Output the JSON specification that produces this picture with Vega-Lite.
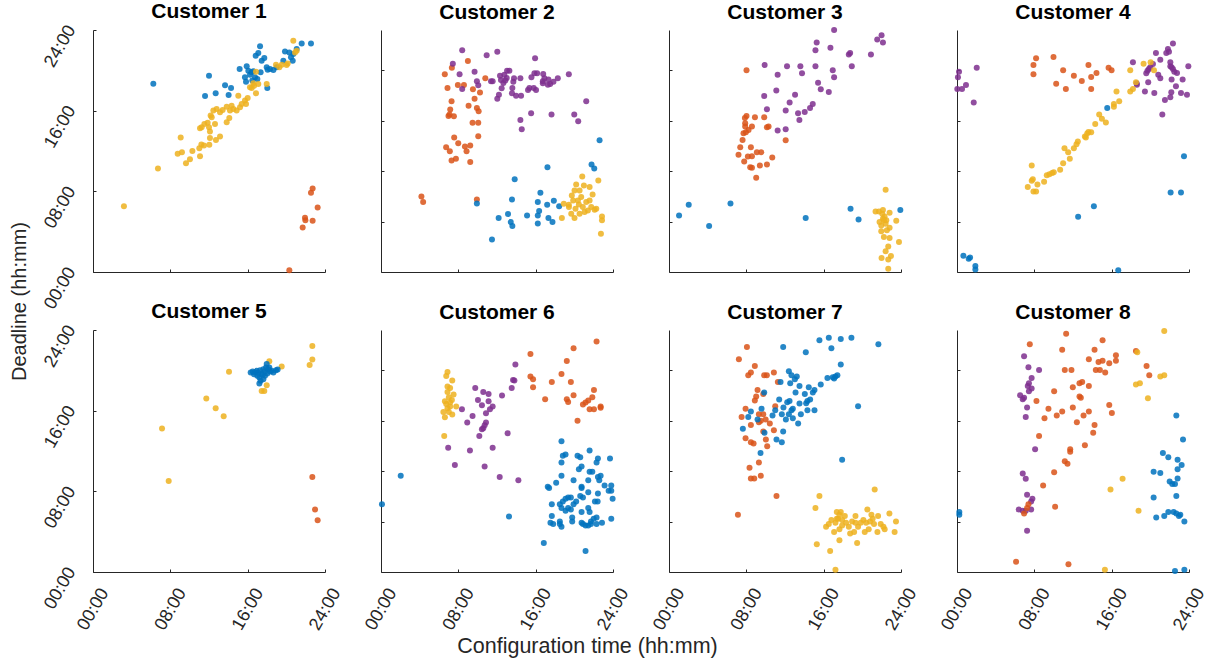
{
"$schema":"https://vega.github.io/schema/vega-lite/v6.json",
"autosize":{"type":"pad"},
"padding":{"left":9,"top":0,"right":5,"bottom":5},
"background":"white",
"data":{"values":[
{"c":1,"k":1,"x":6.24,"y":18.68},{"c":1,"k":1,"x":12.0,"y":19.47},{"c":1,"k":1,"x":11.59,"y":17.46},{"c":1,"k":1,"x":12.69,"y":17.72},{"c":1,"k":1,"x":13.66,"y":18.51},{"c":1,"k":1,"x":14.03,"y":17.56},{"c":1,"k":1,"x":14.28,"y":18.25},{"c":1,"k":1,"x":15.17,"y":20.13},{"c":1,"k":1,"x":15.9,"y":20.4},{"c":1,"k":1,"x":16.07,"y":19.97},{"c":1,"k":1,"x":16.24,"y":19.57},{"c":1,"k":1,"x":15.72,"y":19.31},{"c":1,"k":1,"x":15.83,"y":18.88},{"c":1,"k":1,"x":16.41,"y":19.8},{"c":1,"k":1,"x":16.76,"y":19.31},{"c":1,"k":1,"x":16.59,"y":19.9},{"c":1,"k":1,"x":17.0,"y":19.14},{"c":1,"k":1,"x":17.34,"y":19.8},{"c":1,"k":1,"x":16.48,"y":18.98},{"c":1,"k":1,"x":16.83,"y":21.45},{"c":1,"k":1,"x":17.28,"y":22.38},{"c":1,"k":1,"x":17.1,"y":21.72},{"c":1,"k":1,"x":17.45,"y":20.96},{"c":1,"k":1,"x":17.72,"y":21.22},{"c":1,"k":1,"x":17.97,"y":20.3},{"c":1,"k":1,"x":18.07,"y":20.07},{"c":1,"k":1,"x":18.31,"y":20.13},{"c":1,"k":1,"x":18.66,"y":20.03},{"c":1,"k":1,"x":19.0,"y":20.3},{"c":1,"k":1,"x":19.69,"y":20.96},{"c":1,"k":1,"x":19.86,"y":21.88},{"c":1,"k":1,"x":20.31,"y":21.78},{"c":1,"k":1,"x":20.48,"y":21.29},{"c":1,"k":1,"x":20.72,"y":21.62},{"c":1,"k":1,"x":20.66,"y":20.96},{"c":1,"k":1,"x":21.07,"y":22.11},{"c":1,"k":1,"x":21.59,"y":22.67},{"c":1,"k":1,"x":22.55,"y":22.67},{"c":1,"k":1,"x":18.03,"y":18.25},
{"c":1,"k":3,"x":3.2,"y":6.53},{"c":1,"k":3,"x":6.72,"y":10.26},{"c":1,"k":3,"x":9.07,"y":13.33},{"c":1,"k":3,"x":8.76,"y":11.72},{"c":1,"k":3,"x":9.2,"y":11.88},{"c":1,"k":3,"x":9.62,"y":10.79},{"c":1,"k":3,"x":10.03,"y":11.19},{"c":1,"k":3,"x":10.28,"y":12.01},{"c":1,"k":3,"x":11.07,"y":11.49},{"c":1,"k":3,"x":11.0,"y":12.28},{"c":1,"k":3,"x":11.21,"y":12.64},{"c":1,"k":3,"x":11.48,"y":12.54},{"c":1,"k":3,"x":12.03,"y":12.61},{"c":1,"k":3,"x":11.07,"y":14.26},{"c":1,"k":3,"x":11.24,"y":14.36},{"c":1,"k":3,"x":11.52,"y":14.69},{"c":1,"k":3,"x":11.86,"y":14.79},{"c":1,"k":3,"x":12.0,"y":14.36},{"c":1,"k":3,"x":12.1,"y":13.93},{"c":1,"k":3,"x":12.1,"y":13.3},{"c":1,"k":3,"x":12.62,"y":14.69},{"c":1,"k":3,"x":12.72,"y":13.1},{"c":1,"k":3,"x":13.14,"y":13.43},{"c":1,"k":3,"x":12.28,"y":15.35},{"c":1,"k":3,"x":12.17,"y":15.51},{"c":1,"k":3,"x":12.45,"y":16.01},{"c":1,"k":3,"x":12.79,"y":16.17},{"c":1,"k":3,"x":13.14,"y":15.84},{"c":1,"k":3,"x":13.41,"y":16.07},{"c":1,"k":3,"x":13.83,"y":16.4},{"c":1,"k":3,"x":14.17,"y":16.01},{"c":1,"k":3,"x":14.34,"y":16.5},{"c":1,"k":3,"x":14.52,"y":16.17},{"c":1,"k":3,"x":14.86,"y":16.01},{"c":1,"k":3,"x":15.21,"y":16.34},{"c":1,"k":3,"x":15.72,"y":17.0},{"c":1,"k":3,"x":15.83,"y":16.67},{"c":1,"k":3,"x":15.03,"y":17.49},{"c":1,"k":3,"x":16.0,"y":17.26},{"c":1,"k":3,"x":15.38,"y":16.67},{"c":1,"k":3,"x":13.83,"y":14.85},{"c":1,"k":3,"x":14.1,"y":15.28},{"c":1,"k":3,"x":16.24,"y":18.32},{"c":1,"k":3,"x":16.41,"y":18.25},{"c":1,"k":3,"x":16.66,"y":18.48},{"c":1,"k":3,"x":16.86,"y":17.72},{"c":1,"k":3,"x":16.59,"y":18.71},{"c":1,"k":3,"x":17.1,"y":18.65},{"c":1,"k":3,"x":17.97,"y":18.65},{"c":1,"k":3,"x":18.93,"y":20.56},{"c":1,"k":3,"x":19.28,"y":20.3},{"c":1,"k":3,"x":19.52,"y":20.56},{"c":1,"k":3,"x":20.03,"y":20.53},{"c":1,"k":3,"x":20.14,"y":20.69},{"c":1,"k":3,"x":20.72,"y":22.94},{"c":1,"k":3,"x":20.9,"y":21.78},{"c":1,"k":3,"x":21.07,"y":21.95},{"c":1,"k":3,"x":16.86,"y":19.87},
{"c":1,"k":2,"x":20.31,"y":0.17},{"c":1,"k":2,"x":21.69,"y":4.42},{"c":1,"k":2,"x":21.97,"y":5.12},{"c":1,"k":2,"x":21.93,"y":5.38},{"c":1,"k":2,"x":22.72,"y":5.08},{"c":1,"k":2,"x":23.24,"y":6.4},{"c":1,"k":2,"x":22.55,"y":7.85},{"c":1,"k":2,"x":22.72,"y":8.28},
{"c":2,"k":2,"x":4.18,"y":7.49},{"c":2,"k":2,"x":4.36,"y":6.93},{"c":2,"k":2,"x":9.92,"y":7.19},{"c":2,"k":2,"x":6.6,"y":19.6},{"c":2,"k":2,"x":7.33,"y":20.26},{"c":2,"k":2,"x":8.99,"y":20.92},{"c":2,"k":2,"x":6.88,"y":18.25},{"c":2,"k":2,"x":7.95,"y":18.55},{"c":2,"k":2,"x":8.58,"y":18.55},{"c":2,"k":2,"x":9.51,"y":18.12},{"c":2,"k":2,"x":10.24,"y":17.79},{"c":2,"k":2,"x":9.68,"y":17.19},{"c":2,"k":2,"x":7.3,"y":16.93},{"c":2,"k":2,"x":9.06,"y":16.5},{"c":2,"k":2,"x":9.92,"y":16.27},{"c":2,"k":2,"x":10.1,"y":15.94},{"c":2,"k":2,"x":7.16,"y":16.11},{"c":2,"k":2,"x":6.98,"y":15.48},{"c":2,"k":2,"x":7.54,"y":15.45},{"c":2,"k":2,"x":7.09,"y":15.61},{"c":2,"k":2,"x":9.47,"y":14.79},{"c":2,"k":2,"x":10.06,"y":14.79},{"c":2,"k":2,"x":10.06,"y":13.47},{"c":2,"k":2,"x":7.57,"y":13.33},{"c":2,"k":2,"x":7.99,"y":12.77},{"c":2,"k":2,"x":6.74,"y":12.38},{"c":2,"k":2,"x":7.12,"y":11.98},{"c":2,"k":2,"x":8.68,"y":12.44},{"c":2,"k":2,"x":9.23,"y":12.54},{"c":2,"k":2,"x":8.85,"y":11.98},{"c":2,"k":2,"x":7.3,"y":11.06},{"c":2,"k":2,"x":7.75,"y":11.22},{"c":2,"k":2,"x":9.23,"y":10.92},{"c":2,"k":2,"x":10.79,"y":19.21},
{"c":2,"k":4,"x":8.4,"y":21.98},{"c":2,"k":4,"x":7.43,"y":20.66},{"c":2,"k":4,"x":10.93,"y":21.49},{"c":2,"k":4,"x":12.03,"y":21.85},{"c":2,"k":4,"x":15.94,"y":21.19},{"c":2,"k":4,"x":8.13,"y":19.6},{"c":2,"k":4,"x":9.68,"y":19.87},{"c":2,"k":4,"x":8.4,"y":18.15},{"c":2,"k":4,"x":9.92,"y":18.91},{"c":2,"k":4,"x":10.06,"y":18.51},{"c":2,"k":4,"x":11.38,"y":18.91},{"c":2,"k":4,"x":11.55,"y":18.91},{"c":2,"k":4,"x":12.03,"y":17.19},{"c":2,"k":4,"x":12.2,"y":17.59},{"c":2,"k":4,"x":12.41,"y":19.04},{"c":2,"k":4,"x":12.31,"y":19.47},{"c":2,"k":4,"x":12.76,"y":19.57},{"c":2,"k":4,"x":13.04,"y":19.97},{"c":2,"k":4,"x":13.28,"y":19.97},{"c":2,"k":4,"x":13.01,"y":19.24},{"c":2,"k":4,"x":12.66,"y":18.75},{"c":2,"k":4,"x":12.48,"y":18.22},{"c":2,"k":4,"x":12.86,"y":18.98},{"c":2,"k":4,"x":13.69,"y":18.88},{"c":2,"k":4,"x":13.59,"y":18.25},{"c":2,"k":4,"x":13.55,"y":17.72},{"c":2,"k":4,"x":13.97,"y":17.49},{"c":2,"k":4,"x":14.49,"y":17.49},{"c":2,"k":4,"x":14.42,"y":19.21},{"c":2,"k":4,"x":15.21,"y":18.05},{"c":2,"k":4,"x":15.35,"y":18.25},{"c":2,"k":4,"x":15.8,"y":18.25},{"c":2,"k":4,"x":15.56,"y":19.31},{"c":2,"k":4,"x":15.87,"y":19.7},{"c":2,"k":4,"x":16.15,"y":19.7},{"c":2,"k":4,"x":16.78,"y":19.64},{"c":2,"k":4,"x":16.04,"y":18.05},{"c":2,"k":4,"x":16.74,"y":18.91},{"c":2,"k":4,"x":16.91,"y":19.21},{"c":2,"k":4,"x":17.32,"y":19.08},{"c":2,"k":4,"x":17.5,"y":18.65},{"c":2,"k":4,"x":17.84,"y":18.88},{"c":2,"k":4,"x":18.29,"y":19.21},{"c":2,"k":4,"x":16.74,"y":18.71},{"c":2,"k":4,"x":17.26,"y":18.58},{"c":2,"k":4,"x":19.43,"y":19.6},{"c":2,"k":4,"x":21.23,"y":16.93},{"c":2,"k":4,"x":17.64,"y":15.61},{"c":2,"k":4,"x":15.53,"y":15.74},{"c":2,"k":4,"x":19.99,"y":15.61},{"c":2,"k":4,"x":20.4,"y":14.95},{"c":2,"k":4,"x":14.42,"y":15.08},{"c":2,"k":4,"x":14.56,"y":14.16},{"c":2,"k":4,"x":13.76,"y":19.21},
{"c":2,"k":1,"x":9.92,"y":6.8},{"c":2,"k":1,"x":11.48,"y":3.23},{"c":2,"k":1,"x":12.17,"y":5.35},{"c":2,"k":1,"x":13.14,"y":5.74},{"c":2,"k":1,"x":13.42,"y":4.95},{"c":2,"k":1,"x":13.59,"y":4.55},{"c":2,"k":1,"x":13.55,"y":7.19},{"c":2,"k":1,"x":13.83,"y":9.21},{"c":2,"k":1,"x":15.11,"y":5.61},{"c":2,"k":1,"x":16.22,"y":6.93},{"c":2,"k":1,"x":16.36,"y":6.04},{"c":2,"k":1,"x":16.22,"y":5.61},{"c":2,"k":1,"x":16.22,"y":4.82},{"c":2,"k":1,"x":16.49,"y":7.85},{"c":2,"k":1,"x":17.19,"y":6.67},{"c":2,"k":1,"x":17.32,"y":5.35},{"c":2,"k":1,"x":17.74,"y":4.95},{"c":2,"k":1,"x":17.88,"y":7.06},{"c":2,"k":1,"x":18.43,"y":6.53},{"c":2,"k":1,"x":17.22,"y":10.4},{"c":2,"k":1,"x":21.78,"y":10.66},{"c":2,"k":1,"x":22.06,"y":10.26},{"c":2,"k":1,"x":22.61,"y":13.07},
{"c":2,"k":3,"x":18.71,"y":5.35},{"c":2,"k":3,"x":19.43,"y":6.67},{"c":2,"k":3,"x":19.74,"y":7.59},{"c":2,"k":3,"x":19.88,"y":7.1},{"c":2,"k":3,"x":20.19,"y":8.68},{"c":2,"k":3,"x":20.82,"y":9.47},{"c":2,"k":3,"x":20.99,"y":8.58},{"c":2,"k":3,"x":21.58,"y":8.42},{"c":2,"k":3,"x":21.89,"y":7.69},{"c":2,"k":3,"x":22.48,"y":9.08},{"c":2,"k":3,"x":20.02,"y":8.09},{"c":2,"k":3,"x":20.54,"y":8.09},{"c":2,"k":3,"x":20.37,"y":7.1},{"c":2,"k":3,"x":20.71,"y":7.43},{"c":2,"k":3,"x":20.47,"y":6.7},{"c":2,"k":3,"x":20.12,"y":6.27},{"c":2,"k":3,"x":20.88,"y":6.44},{"c":2,"k":3,"x":21.23,"y":6.93},{"c":2,"k":3,"x":21.4,"y":6.11},{"c":2,"k":3,"x":21.75,"y":6.44},{"c":2,"k":3,"x":22.1,"y":6.17},{"c":2,"k":3,"x":22.27,"y":6.27},{"c":2,"k":3,"x":18.91,"y":6.77},{"c":2,"k":3,"x":19.44,"y":6.44},{"c":2,"k":3,"x":19.68,"y":5.78},{"c":2,"k":3,"x":20.02,"y":5.35},{"c":2,"k":3,"x":21.06,"y":5.94},{"c":2,"k":3,"x":22.86,"y":5.51},{"c":2,"k":3,"x":22.86,"y":5.12},{"c":2,"k":3,"x":22.75,"y":3.8},{"c":2,"k":3,"x":21.58,"y":7.1},{"c":2,"k":3,"x":20.54,"y":5.78},
{"c":3,"k":2,"x":8.02,"y":20.0},{"c":3,"k":2,"x":8.02,"y":15.48},{"c":3,"k":2,"x":7.85,"y":15.28},{"c":3,"k":2,"x":7.88,"y":14.75},{"c":3,"k":2,"x":7.88,"y":14.42},{"c":3,"k":2,"x":8.23,"y":14.09},{"c":3,"k":2,"x":8.58,"y":14.42},{"c":3,"k":2,"x":8.89,"y":15.35},{"c":3,"k":2,"x":9.85,"y":15.35},{"c":3,"k":2,"x":7.71,"y":13.76},{"c":3,"k":2,"x":7.61,"y":13.1},{"c":3,"k":2,"x":7.37,"y":12.38},{"c":3,"k":2,"x":7.19,"y":11.62},{"c":3,"k":2,"x":7.78,"y":10.96},{"c":3,"k":2,"x":8.16,"y":11.45},{"c":3,"k":2,"x":8.58,"y":11.49},{"c":3,"k":2,"x":8.47,"y":12.38},{"c":3,"k":2,"x":9.09,"y":11.88},{"c":3,"k":2,"x":9.54,"y":11.88},{"c":3,"k":2,"x":8.4,"y":10.4},{"c":3,"k":2,"x":8.58,"y":10.33},{"c":3,"k":2,"x":9.4,"y":10.56},{"c":3,"k":2,"x":10.13,"y":10.66},{"c":3,"k":2,"x":9.02,"y":9.34},{"c":3,"k":2,"x":10.68,"y":11.35},{"c":3,"k":2,"x":10.13,"y":14.36},{"c":3,"k":2,"x":10.3,"y":14.42},{"c":3,"k":2,"x":12.07,"y":13.07},{"c":3,"k":2,"x":7.95,"y":13.86},
{"c":3,"k":4,"x":17.08,"y":23.99},{"c":3,"k":4,"x":15.28,"y":22.77},{"c":3,"k":4,"x":15.15,"y":21.98},{"c":3,"k":4,"x":16.7,"y":22.24},{"c":3,"k":4,"x":9.89,"y":20.53},{"c":3,"k":4,"x":12.21,"y":20.4},{"c":3,"k":4,"x":13.59,"y":20.4},{"c":3,"k":4,"x":13.76,"y":19.7},{"c":3,"k":4,"x":15.15,"y":20.4},{"c":3,"k":4,"x":11.24,"y":19.57},{"c":3,"k":4,"x":16.94,"y":20.0},{"c":3,"k":4,"x":17.08,"y":19.31},{"c":3,"k":4,"x":15.42,"y":18.78},{"c":3,"k":4,"x":15.7,"y":18.12},{"c":3,"k":4,"x":16.53,"y":17.85},{"c":3,"k":4,"x":11.1,"y":17.99},{"c":3,"k":4,"x":13.04,"y":17.59},{"c":3,"k":4,"x":9.85,"y":17.46},{"c":3,"k":4,"x":12.48,"y":16.8},{"c":3,"k":4,"x":14.87,"y":16.67},{"c":3,"k":4,"x":14.59,"y":16.27},{"c":3,"k":4,"x":14.04,"y":15.87},{"c":3,"k":4,"x":13.35,"y":15.74},{"c":3,"k":4,"x":13.49,"y":15.08},{"c":3,"k":4,"x":12.07,"y":16.01},{"c":3,"k":4,"x":10.13,"y":16.14},{"c":3,"k":4,"x":11.24,"y":14.03},{"c":3,"k":4,"x":12.07,"y":14.16},{"c":3,"k":4,"x":18.6,"y":21.58},{"c":3,"k":4,"x":18.74,"y":21.72},{"c":3,"k":4,"x":18.91,"y":20.4},{"c":3,"k":4,"x":20.89,"y":21.58},{"c":3,"k":4,"x":21.54,"y":23.07},{"c":3,"k":4,"x":21.99,"y":23.47},{"c":3,"k":4,"x":22.13,"y":22.77},
{"c":3,"k":1,"x":1.04,"y":5.61},{"c":3,"k":1,"x":2.04,"y":6.67},{"c":3,"k":1,"x":4.15,"y":4.55},{"c":3,"k":1,"x":6.36,"y":6.8},{"c":3,"k":1,"x":14.14,"y":5.35},{"c":3,"k":1,"x":18.78,"y":6.27},{"c":3,"k":1,"x":19.61,"y":5.21},{"c":3,"k":1,"x":23.93,"y":6.14},
{"c":3,"k":3,"x":22.41,"y":8.15},{"c":3,"k":3,"x":21.37,"y":6.01},{"c":3,"k":3,"x":21.72,"y":6.01},{"c":3,"k":3,"x":22.13,"y":6.14},{"c":3,"k":3,"x":22.82,"y":5.87},{"c":3,"k":3,"x":23.51,"y":5.08},{"c":3,"k":3,"x":21.78,"y":4.95},{"c":3,"k":3,"x":22.13,"y":5.28},{"c":3,"k":3,"x":22.3,"y":5.51},{"c":3,"k":3,"x":22.48,"y":5.12},{"c":3,"k":3,"x":21.96,"y":4.62},{"c":3,"k":3,"x":22.41,"y":4.79},{"c":3,"k":3,"x":22.82,"y":4.39},{"c":3,"k":3,"x":21.96,"y":4.03},{"c":3,"k":3,"x":22.54,"y":4.13},{"c":3,"k":3,"x":22.23,"y":3.47},{"c":3,"k":3,"x":22.82,"y":3.37},{"c":3,"k":3,"x":23.79,"y":2.97},{"c":3,"k":3,"x":22.68,"y":2.54},{"c":3,"k":3,"x":22.41,"y":2.05},{"c":3,"k":3,"x":21.99,"y":1.39},{"c":3,"k":3,"x":22.96,"y":1.58},{"c":3,"k":3,"x":22.68,"y":1.25},{"c":3,"k":3,"x":22.68,"y":0.33},{"c":3,"k":3,"x":22.06,"y":5.78},{"c":3,"k":3,"x":22.23,"y":5.12},
{"c":4,"k":4,"x":0.21,"y":19.87},{"c":4,"k":4,"x":0.1,"y":19.31},{"c":4,"k":4,"x":0.03,"y":18.15},{"c":4,"k":4,"x":0.52,"y":18.15},{"c":4,"k":4,"x":0.93,"y":18.55},{"c":4,"k":4,"x":2.04,"y":20.26},{"c":4,"k":4,"x":1.73,"y":16.8},{"c":4,"k":4,"x":18.2,"y":20.79},{"c":4,"k":4,"x":18.61,"y":18.58},{"c":4,"k":4,"x":18.58,"y":18.71},{"c":4,"k":4,"x":19.44,"y":17.89},{"c":4,"k":4,"x":19.58,"y":19.7},{"c":4,"k":4,"x":19.71,"y":19.97},{"c":4,"k":4,"x":19.85,"y":20.13},{"c":4,"k":4,"x":19.99,"y":20.3},{"c":4,"k":4,"x":19.78,"y":18.81},{"c":4,"k":4,"x":20.27,"y":20.63},{"c":4,"k":4,"x":20.41,"y":17.76},{"c":4,"k":4,"x":20.58,"y":21.72},{"c":4,"k":4,"x":20.82,"y":19.57},{"c":4,"k":4,"x":21.03,"y":21.06},{"c":4,"k":4,"x":21.03,"y":19.21},{"c":4,"k":4,"x":21.24,"y":15.61},{"c":4,"k":4,"x":21.51,"y":17.06},{"c":4,"k":4,"x":21.65,"y":21.72},{"c":4,"k":4,"x":21.82,"y":22.11},{"c":4,"k":4,"x":21.93,"y":21.85},{"c":4,"k":4,"x":22.07,"y":17.33},{"c":4,"k":4,"x":22.17,"y":17.82},{"c":4,"k":4,"x":22.07,"y":20.79},{"c":4,"k":4,"x":22.2,"y":19.08},{"c":4,"k":4,"x":22.07,"y":20.4},{"c":4,"k":4,"x":22.34,"y":20.13},{"c":4,"k":4,"x":22.48,"y":19.87},{"c":4,"k":4,"x":22.34,"y":22.67},{"c":4,"k":4,"x":22.76,"y":19.74},{"c":4,"k":4,"x":22.65,"y":18.42},{"c":4,"k":4,"x":23.17,"y":17.76},{"c":4,"k":4,"x":23.34,"y":19.08},{"c":4,"k":4,"x":23.79,"y":17.59},{"c":4,"k":4,"x":23.93,"y":20.4},{"c":4,"k":4,"x":22.2,"y":20.3},
{"c":4,"k":2,"x":8.18,"y":21.19},{"c":4,"k":2,"x":7.91,"y":20.53},{"c":4,"k":2,"x":7.91,"y":19.6},{"c":4,"k":2,"x":9.98,"y":21.32},{"c":4,"k":2,"x":10.26,"y":18.68},{"c":4,"k":2,"x":10.98,"y":20.0},{"c":4,"k":2,"x":11.26,"y":18.15},{"c":4,"k":2,"x":12.09,"y":19.47},{"c":4,"k":2,"x":12.91,"y":18.94},{"c":4,"k":2,"x":13.6,"y":20.53},{"c":4,"k":2,"x":13.88,"y":19.34},{"c":4,"k":2,"x":13.88,"y":18.15},{"c":4,"k":2,"x":14.43,"y":19.74},{"c":4,"k":2,"x":15.68,"y":20.26},{"c":4,"k":2,"x":15.99,"y":20.0},
{"c":4,"k":3,"x":7.73,"y":10.56},{"c":4,"k":3,"x":7.32,"y":8.42},{"c":4,"k":3,"x":7.73,"y":9.04},{"c":4,"k":3,"x":7.84,"y":9.21},{"c":4,"k":3,"x":7.91,"y":7.99},{"c":4,"k":3,"x":8.18,"y":7.99},{"c":4,"k":3,"x":8.32,"y":8.68},{"c":4,"k":3,"x":9.01,"y":8.94},{"c":4,"k":3,"x":9.29,"y":9.6},{"c":4,"k":3,"x":9.56,"y":9.7},{"c":4,"k":3,"x":9.84,"y":9.83},{"c":4,"k":3,"x":10.01,"y":9.9},{"c":4,"k":3,"x":10.67,"y":10.13},{"c":4,"k":3,"x":10.98,"y":10.79},{"c":4,"k":3,"x":11.12,"y":12.28},{"c":4,"k":3,"x":11.5,"y":11.88},{"c":4,"k":3,"x":11.67,"y":11.22},{"c":4,"k":3,"x":12.09,"y":12.28},{"c":4,"k":3,"x":12.36,"y":12.67},{"c":4,"k":3,"x":12.5,"y":12.94},{"c":4,"k":3,"x":13.33,"y":13.33},{"c":4,"k":3,"x":13.47,"y":13.73},{"c":4,"k":3,"x":13.6,"y":13.89},{"c":4,"k":3,"x":13.88,"y":13.86},{"c":4,"k":3,"x":14.3,"y":14.69},{"c":4,"k":3,"x":14.71,"y":15.61},{"c":4,"k":3,"x":14.99,"y":15.21},{"c":4,"k":3,"x":15.4,"y":14.82},{"c":4,"k":3,"x":16.23,"y":16.4},{"c":4,"k":3,"x":16.23,"y":16.67},{"c":4,"k":3,"x":16.78,"y":16.93},{"c":4,"k":3,"x":16.5,"y":17.89},{"c":4,"k":3,"x":17.92,"y":17.89},{"c":4,"k":3,"x":18.2,"y":18.15},{"c":4,"k":3,"x":17.92,"y":20.0},{"c":4,"k":3,"x":18.51,"y":18.81},{"c":4,"k":3,"x":19.3,"y":20.66},{"c":4,"k":3,"x":20.03,"y":20.79},{"c":4,"k":3,"x":20.38,"y":20.0},{"c":4,"k":3,"x":13.23,"y":13.43},
{"c":4,"k":1,"x":0.66,"y":1.62},{"c":4,"k":1,"x":1.21,"y":1.32},{"c":4,"k":1,"x":1.35,"y":1.45},{"c":4,"k":1,"x":1.9,"y":0.59},{"c":4,"k":1,"x":1.9,"y":0.26},{"c":4,"k":1,"x":12.53,"y":5.48},{"c":4,"k":1,"x":14.16,"y":6.53},{"c":4,"k":1,"x":15.54,"y":16.27},{"c":4,"k":1,"x":16.68,"y":0.17},{"c":4,"k":1,"x":22.1,"y":7.89},{"c":4,"k":1,"x":23.17,"y":7.89},{"c":4,"k":1,"x":23.48,"y":11.49},
{"c":5,"k":3,"x":7.14,"y":14.22},{"c":5,"k":3,"x":7.83,"y":9.02},{"c":5,"k":3,"x":11.72,"y":17.2},{"c":5,"k":3,"x":12.69,"y":16.24},{"c":5,"k":3,"x":13.52,"y":15.45},{"c":5,"k":3,"x":14.07,"y":19.85},{"c":5,"k":3,"x":17.45,"y":17.96},{"c":5,"k":3,"x":17.72,"y":17.96},{"c":5,"k":3,"x":17.97,"y":18.53},{"c":5,"k":3,"x":18.24,"y":20.91},{"c":5,"k":3,"x":19.52,"y":20.38},{"c":5,"k":3,"x":22.41,"y":20.52},{"c":5,"k":3,"x":22.69,"y":21.08},{"c":5,"k":3,"x":22.69,"y":22.41},
{"c":5,"k":1,"x":16.31,"y":19.79},{"c":5,"k":1,"x":16.52,"y":19.89},{"c":5,"k":1,"x":16.76,"y":19.82},{"c":5,"k":1,"x":16.93,"y":19.95},{"c":5,"k":1,"x":17.1,"y":19.75},{"c":5,"k":1,"x":17.28,"y":20.01},{"c":5,"k":1,"x":17.45,"y":19.62},{"c":5,"k":1,"x":17.62,"y":20.11},{"c":5,"k":1,"x":17.79,"y":19.89},{"c":5,"k":1,"x":17.97,"y":20.62},{"c":5,"k":1,"x":18.03,"y":19.69},{"c":5,"k":1,"x":18.14,"y":20.11},{"c":5,"k":1,"x":18.31,"y":19.89},{"c":5,"k":1,"x":18.48,"y":19.95},{"c":5,"k":1,"x":18.66,"y":19.79},{"c":5,"k":1,"x":18.93,"y":20.01},{"c":5,"k":1,"x":19.1,"y":20.08},{"c":5,"k":1,"x":17.21,"y":19.29},{"c":5,"k":1,"x":17.34,"y":18.96},{"c":5,"k":1,"x":17.21,"y":18.69},{"c":5,"k":1,"x":17.62,"y":19.12},{"c":5,"k":1,"x":17.79,"y":19.46},{"c":5,"k":1,"x":17.0,"y":19.46},{"c":5,"k":1,"x":16.66,"y":19.62},{"c":5,"k":1,"x":18.24,"y":20.28},{"c":5,"k":1,"x":17.9,"y":20.28},{"c":5,"k":1,"x":17.55,"y":19.55},
{"c":5,"k":2,"x":22.69,"y":9.41},{"c":5,"k":2,"x":22.97,"y":6.2},{"c":5,"k":2,"x":23.24,"y":5.14},
{"c":6,"k":1,"x":0.1,"y":6.73},{"c":6,"k":1,"x":2.04,"y":9.54},{"c":6,"k":1,"x":13.24,"y":5.51},{"c":6,"k":1,"x":16.84,"y":2.87},{"c":6,"k":1,"x":21.16,"y":2.08},{"c":6,"k":1,"x":18.67,"y":12.97},{"c":6,"k":1,"x":18.81,"y":11.52},{"c":6,"k":1,"x":19.09,"y":11.65},{"c":6,"k":1,"x":18.67,"y":10.86},{"c":6,"k":1,"x":18.67,"y":9.54},{"c":6,"k":1,"x":18.12,"y":8.85},{"c":6,"k":1,"x":17.25,"y":8.45},{"c":6,"k":1,"x":17.39,"y":8.32},{"c":6,"k":1,"x":17.67,"y":6.73},{"c":6,"k":1,"x":18.5,"y":6.73},{"c":6,"k":1,"x":18.81,"y":7.0},{"c":6,"k":1,"x":19.09,"y":7.26},{"c":6,"k":1,"x":19.36,"y":7.39},{"c":6,"k":1,"x":19.64,"y":7.39},{"c":6,"k":1,"x":18.67,"y":6.34},{"c":6,"k":1,"x":19.09,"y":6.07},{"c":6,"k":1,"x":19.64,"y":6.21},{"c":6,"k":1,"x":19.92,"y":6.73},{"c":6,"k":1,"x":19.92,"y":9.11},{"c":6,"k":1,"x":20.33,"y":11.52},{"c":6,"k":1,"x":20.61,"y":11.39},{"c":6,"k":1,"x":20.47,"y":10.2},{"c":6,"k":1,"x":20.75,"y":10.46},{"c":6,"k":1,"x":21.58,"y":12.05},{"c":6,"k":1,"x":22.44,"y":11.26},{"c":6,"k":1,"x":22.3,"y":10.86},{"c":6,"k":1,"x":23.69,"y":11.26},{"c":6,"k":1,"x":21.58,"y":9.94},{"c":6,"k":1,"x":21.86,"y":9.94},{"c":6,"k":1,"x":21.44,"y":9.11},{"c":6,"k":1,"x":22.44,"y":9.41},{"c":6,"k":1,"x":22.72,"y":9.54},{"c":6,"k":1,"x":22.58,"y":9.11},{"c":6,"k":1,"x":23.13,"y":8.58},{"c":6,"k":1,"x":23.82,"y":8.58},{"c":6,"k":1,"x":23.55,"y":8.06},{"c":6,"k":1,"x":23.82,"y":8.06},{"c":6,"k":1,"x":23.96,"y":7.26},{"c":6,"k":1,"x":22.44,"y":7.79},{"c":6,"k":1,"x":21.44,"y":7.92},{"c":6,"k":1,"x":20.75,"y":8.45},{"c":6,"k":1,"x":20.75,"y":8.32},{"c":6,"k":1,"x":20.61,"y":7.53},{"c":6,"k":1,"x":20.89,"y":7.39},{"c":6,"k":1,"x":22.13,"y":7.0},{"c":6,"k":1,"x":22.41,"y":7.0},{"c":6,"k":1,"x":20.19,"y":7.0},{"c":6,"k":1,"x":20.75,"y":5.94},{"c":6,"k":1,"x":21.44,"y":6.34},{"c":6,"k":1,"x":21.58,"y":5.94},{"c":6,"k":1,"x":19.78,"y":5.41},{"c":6,"k":1,"x":19.78,"y":5.02},{"c":6,"k":1,"x":18.5,"y":5.02},{"c":6,"k":1,"x":18.5,"y":4.75},{"c":6,"k":1,"x":18.67,"y":4.49},{"c":6,"k":1,"x":17.67,"y":5.55},{"c":6,"k":1,"x":17.53,"y":4.89},{"c":6,"k":1,"x":17.81,"y":4.75},{"c":6,"k":1,"x":20.75,"y":4.89},{"c":6,"k":1,"x":20.89,"y":4.75},{"c":6,"k":1,"x":21.16,"y":4.62},{"c":6,"k":1,"x":21.44,"y":4.62},{"c":6,"k":1,"x":21.72,"y":5.02},{"c":6,"k":1,"x":22.0,"y":5.28},{"c":6,"k":1,"x":22.3,"y":5.41},{"c":6,"k":1,"x":22.3,"y":4.75},{"c":6,"k":1,"x":22.86,"y":4.89},{"c":6,"k":1,"x":23.82,"y":5.28},{"c":6,"k":1,"x":21.72,"y":4.75},{"c":6,"k":1,"x":19.36,"y":6.34},
{"c":6,"k":3,"x":6.88,"y":19.84},{"c":6,"k":3,"x":6.75,"y":19.45},{"c":6,"k":3,"x":7.37,"y":18.98},{"c":6,"k":3,"x":6.88,"y":18.39},{"c":6,"k":3,"x":7.15,"y":18.26},{"c":6,"k":3,"x":6.88,"y":17.86},{"c":6,"k":3,"x":7.51,"y":17.6},{"c":6,"k":3,"x":7.02,"y":17.33},{"c":6,"k":3,"x":6.61,"y":16.94},{"c":6,"k":3,"x":6.75,"y":16.67},{"c":6,"k":3,"x":7.15,"y":16.8},{"c":6,"k":3,"x":7.78,"y":16.41},{"c":6,"k":3,"x":6.45,"y":15.88},{"c":6,"k":3,"x":7.02,"y":15.88},{"c":6,"k":3,"x":7.37,"y":15.62},{"c":6,"k":3,"x":6.61,"y":15.35},{"c":6,"k":3,"x":6.54,"y":13.5},{"c":6,"k":3,"x":7.15,"y":16.41},{"c":6,"k":3,"x":6.88,"y":16.24},{"c":6,"k":3,"x":7.33,"y":17.07},
{"c":6,"k":4,"x":13.9,"y":20.57},{"c":6,"k":4,"x":13.66,"y":19.05},{"c":6,"k":4,"x":13.8,"y":18.98},{"c":6,"k":4,"x":13.52,"y":18.26},{"c":6,"k":4,"x":12.52,"y":17.5},{"c":6,"k":4,"x":9.75,"y":18.26},{"c":6,"k":4,"x":10.58,"y":17.86},{"c":6,"k":4,"x":11.13,"y":17.66},{"c":6,"k":4,"x":10.03,"y":17.07},{"c":6,"k":4,"x":11.13,"y":16.94},{"c":6,"k":4,"x":10.44,"y":16.54},{"c":6,"k":4,"x":11.55,"y":16.41},{"c":6,"k":4,"x":11.27,"y":16.14},{"c":6,"k":4,"x":10.86,"y":15.75},{"c":6,"k":4,"x":8.37,"y":16.14},{"c":6,"k":4,"x":9.47,"y":15.48},{"c":6,"k":4,"x":8.92,"y":14.82},{"c":6,"k":4,"x":10.86,"y":14.82},{"c":6,"k":4,"x":10.72,"y":14.56},{"c":6,"k":4,"x":10.58,"y":14.26},{"c":6,"k":4,"x":10.44,"y":14.16},{"c":6,"k":4,"x":10.17,"y":13.5},{"c":6,"k":4,"x":13.1,"y":13.77},{"c":6,"k":4,"x":6.95,"y":12.31},{"c":6,"k":4,"x":9.2,"y":12.05},{"c":6,"k":4,"x":11.55,"y":12.31},{"c":6,"k":4,"x":7.64,"y":10.6},{"c":6,"k":4,"x":10.72,"y":10.47},{"c":6,"k":4,"x":12.28,"y":9.41},{"c":6,"k":4,"x":14.21,"y":9.11},
{"c":6,"k":2,"x":15.46,"y":21.62},{"c":6,"k":2,"x":19.92,"y":22.19},{"c":6,"k":2,"x":22.3,"y":22.85},{"c":6,"k":2,"x":19.22,"y":20.93},{"c":6,"k":2,"x":18.67,"y":19.64},{"c":6,"k":2,"x":19.64,"y":18.85},{"c":6,"k":2,"x":17.67,"y":18.85},{"c":6,"k":2,"x":15.46,"y":19.38},{"c":6,"k":2,"x":15.73,"y":19.12},{"c":6,"k":2,"x":15.73,"y":18.32},{"c":6,"k":2,"x":16.98,"y":17.13},{"c":6,"k":2,"x":19.22,"y":17.13},{"c":6,"k":2,"x":19.36,"y":16.87},{"c":6,"k":2,"x":19.92,"y":17.53},{"c":6,"k":2,"x":20.89,"y":16.61},{"c":6,"k":2,"x":21.16,"y":16.8},{"c":6,"k":2,"x":21.44,"y":17.0},{"c":6,"k":2,"x":21.86,"y":17.33},{"c":6,"k":2,"x":22.03,"y":18.06},{"c":6,"k":2,"x":21.58,"y":16.14},{"c":6,"k":2,"x":22.03,"y":16.14},{"c":6,"k":2,"x":22.72,"y":16.41},{"c":6,"k":2,"x":20.33,"y":14.99},{"c":6,"k":2,"x":22.72,"y":16.28},
{"c":7,"k":2,"x":8.06,"y":22.32},{"c":7,"k":2,"x":7.23,"y":21.1},{"c":7,"k":2,"x":8.88,"y":20.44},{"c":7,"k":2,"x":8.2,"y":19.51},{"c":7,"k":2,"x":8.47,"y":19.78},{"c":7,"k":2,"x":9.85,"y":19.51},{"c":7,"k":2,"x":10.12,"y":19.51},{"c":7,"k":2,"x":10.85,"y":19.78},{"c":7,"k":2,"x":11.26,"y":18.85},{"c":7,"k":2,"x":9.16,"y":18.06},{"c":7,"k":2,"x":9.02,"y":17.4},{"c":7,"k":2,"x":8.88,"y":17.0},{"c":7,"k":2,"x":9.75,"y":17.66},{"c":7,"k":2,"x":7.92,"y":16.18},{"c":7,"k":2,"x":7.51,"y":15.38},{"c":7,"k":2,"x":8.47,"y":14.59},{"c":7,"k":2,"x":9.3,"y":15.65},{"c":7,"k":2,"x":9.5,"y":14.99},{"c":7,"k":2,"x":9.75,"y":15.65},{"c":7,"k":2,"x":10.0,"y":15.12},{"c":7,"k":2,"x":9.3,"y":14.86},{"c":7,"k":2,"x":10.43,"y":14.72},{"c":7,"k":2,"x":10.99,"y":16.44},{"c":7,"k":2,"x":10.85,"y":14.06},{"c":7,"k":2,"x":9.75,"y":13.93},{"c":7,"k":2,"x":10.02,"y":13.14},{"c":7,"k":2,"x":10.16,"y":12.48},{"c":7,"k":2,"x":7.92,"y":13.27},{"c":7,"k":2,"x":8.47,"y":12.88},{"c":7,"k":2,"x":8.75,"y":12.74},{"c":7,"k":2,"x":9.3,"y":10.86},{"c":7,"k":2,"x":8.33,"y":10.33},{"c":7,"k":2,"x":8.47,"y":9.28},{"c":7,"k":2,"x":8.82,"y":9.28},{"c":7,"k":2,"x":9.5,"y":9.54},{"c":7,"k":2,"x":11.12,"y":7.53},{"c":7,"k":2,"x":7.13,"y":5.68},
{"c":7,"k":1,"x":11.81,"y":22.32},{"c":7,"k":1,"x":14.15,"y":21.79},{"c":7,"k":1,"x":15.56,"y":22.98},{"c":7,"k":1,"x":16.53,"y":23.24},{"c":7,"k":1,"x":16.8,"y":22.19},{"c":7,"k":1,"x":17.77,"y":23.11},{"c":7,"k":1,"x":18.87,"y":23.24},{"c":7,"k":1,"x":21.66,"y":22.58},{"c":7,"k":1,"x":17.77,"y":20.57},{"c":7,"k":1,"x":12.4,"y":19.91},{"c":7,"k":1,"x":12.67,"y":19.51},{"c":7,"k":1,"x":13.22,"y":19.38},{"c":7,"k":1,"x":13.02,"y":19.12},{"c":7,"k":1,"x":11.54,"y":18.85},{"c":7,"k":1,"x":12.54,"y":18.72},{"c":7,"k":1,"x":13.5,"y":18.45},{"c":7,"k":1,"x":13.09,"y":17.79},{"c":7,"k":1,"x":14.05,"y":17.66},{"c":7,"k":1,"x":14.46,"y":18.32},{"c":7,"k":1,"x":14.88,"y":17.79},{"c":7,"k":1,"x":15.05,"y":18.06},{"c":7,"k":1,"x":15.7,"y":18.59},{"c":7,"k":1,"x":16.39,"y":19.25},{"c":7,"k":1,"x":16.94,"y":19.31},{"c":7,"k":1,"x":17.22,"y":19.38},{"c":7,"k":1,"x":17.08,"y":19.18},{"c":7,"k":1,"x":17.42,"y":19.51},{"c":7,"k":1,"x":9.85,"y":17.79},{"c":7,"k":1,"x":11.4,"y":17.1},{"c":7,"k":1,"x":12.23,"y":16.84},{"c":7,"k":1,"x":12.47,"y":16.97},{"c":7,"k":1,"x":11.84,"y":16.31},{"c":7,"k":1,"x":12.67,"y":16.04},{"c":7,"k":1,"x":12.81,"y":16.18},{"c":7,"k":1,"x":13.5,"y":16.71},{"c":7,"k":1,"x":14.19,"y":16.74},{"c":7,"k":1,"x":14.32,"y":16.97},{"c":7,"k":1,"x":14.6,"y":17.1},{"c":7,"k":1,"x":14.32,"y":16.04},{"c":7,"k":1,"x":15.05,"y":16.04},{"c":7,"k":1,"x":13.64,"y":15.65},{"c":7,"k":1,"x":12.4,"y":15.65},{"c":7,"k":1,"x":11.67,"y":15.65},{"c":7,"k":1,"x":10.71,"y":15.52},{"c":7,"k":1,"x":10.99,"y":16.04},{"c":7,"k":1,"x":12.09,"y":15.12},{"c":7,"k":1,"x":12.81,"y":15.25},{"c":7,"k":1,"x":13.36,"y":14.72},{"c":7,"k":1,"x":8.2,"y":15.38},{"c":7,"k":1,"x":8.47,"y":15.91},{"c":7,"k":1,"x":9.57,"y":16.18},{"c":7,"k":1,"x":9.16,"y":15.12},{"c":7,"k":1,"x":7.64,"y":14.2},{"c":7,"k":1,"x":9.88,"y":13.8},{"c":7,"k":1,"x":11.81,"y":13.93},{"c":7,"k":1,"x":11.12,"y":13.14},{"c":7,"k":1,"x":11.67,"y":12.88},{"c":7,"k":1,"x":9.47,"y":11.79},{"c":7,"k":1,"x":19.56,"y":16.44},{"c":7,"k":1,"x":17.91,"y":11.13},
{"c":7,"k":3,"x":15.56,"y":7.53},{"c":7,"k":3,"x":15.15,"y":6.34},{"c":7,"k":3,"x":21.28,"y":8.19},{"c":7,"k":3,"x":15.29,"y":2.74},{"c":7,"k":3,"x":16.67,"y":2.08},{"c":7,"k":3,"x":17.22,"y":0.23},{"c":7,"k":3,"x":17.63,"y":3.14},{"c":7,"k":3,"x":19.46,"y":2.87},{"c":7,"k":3,"x":16.25,"y":4.49},{"c":7,"k":3,"x":16.53,"y":4.75},{"c":7,"k":3,"x":16.8,"y":5.15},{"c":7,"k":3,"x":17.36,"y":5.94},{"c":7,"k":3,"x":17.77,"y":5.94},{"c":7,"k":3,"x":17.49,"y":5.28},{"c":7,"k":3,"x":17.22,"y":4.89},{"c":7,"k":3,"x":17.08,"y":3.96},{"c":7,"k":3,"x":17.63,"y":4.23},{"c":7,"k":3,"x":17.91,"y":5.15},{"c":7,"k":3,"x":18.19,"y":5.55},{"c":7,"k":3,"x":18.32,"y":4.89},{"c":7,"k":3,"x":18.6,"y":4.49},{"c":7,"k":3,"x":18.74,"y":3.83},{"c":7,"k":3,"x":19.15,"y":3.96},{"c":7,"k":3,"x":19.29,"y":5.55},{"c":7,"k":3,"x":19.29,"y":4.89},{"c":7,"k":3,"x":19.56,"y":4.49},{"c":7,"k":3,"x":19.83,"y":4.89},{"c":7,"k":3,"x":20.11,"y":5.15},{"c":7,"k":3,"x":20.25,"y":3.96},{"c":7,"k":3,"x":20.52,"y":6.21},{"c":7,"k":3,"x":20.66,"y":4.23},{"c":7,"k":3,"x":20.94,"y":5.68},{"c":7,"k":3,"x":21.07,"y":5.28},{"c":7,"k":3,"x":21.21,"y":4.75},{"c":7,"k":3,"x":21.63,"y":5.55},{"c":7,"k":3,"x":21.56,"y":3.96},{"c":7,"k":3,"x":21.9,"y":4.75},{"c":7,"k":3,"x":22.18,"y":4.49},{"c":7,"k":3,"x":22.31,"y":4.23},{"c":7,"k":3,"x":22.8,"y":5.81},{"c":7,"k":3,"x":23.48,"y":5.02},{"c":7,"k":3,"x":23.34,"y":3.96},{"c":7,"k":3,"x":17.36,"y":5.28},{"c":7,"k":3,"x":17.91,"y":4.62},{"c":7,"k":3,"x":20.8,"y":5.02},{"c":7,"k":3,"x":20.39,"y":4.89},{"c":7,"k":3,"x":17.63,"y":5.68},{"c":7,"k":3,"x":18.94,"y":5.02},
{"c":8,"k":1,"x":0.24,"y":5.94},{"c":8,"k":1,"x":0.24,"y":5.68},{"c":8,"k":1,"x":22.69,"y":15.52},{"c":8,"k":1,"x":23.38,"y":13.14},{"c":8,"k":1,"x":21.3,"y":11.79},{"c":8,"k":1,"x":21.86,"y":11.39},{"c":8,"k":1,"x":22.82,"y":11.13},{"c":8,"k":1,"x":23.24,"y":10.6},{"c":8,"k":1,"x":22.82,"y":10.2},{"c":8,"k":1,"x":20.34,"y":9.94},{"c":8,"k":1,"x":21.03,"y":9.81},{"c":8,"k":1,"x":22.82,"y":9.28},{"c":8,"k":1,"x":22.0,"y":8.98},{"c":8,"k":1,"x":22.27,"y":8.72},{"c":8,"k":1,"x":22.55,"y":8.72},{"c":8,"k":1,"x":20.34,"y":7.4},{"c":8,"k":1,"x":22.69,"y":7.53},{"c":8,"k":1,"x":20.61,"y":5.41},{"c":8,"k":1,"x":21.44,"y":5.55},{"c":8,"k":1,"x":21.86,"y":5.94},{"c":8,"k":1,"x":22.41,"y":5.94},{"c":8,"k":1,"x":22.69,"y":5.81},{"c":8,"k":1,"x":22.96,"y":5.55},{"c":8,"k":1,"x":23.52,"y":5.02},{"c":8,"k":1,"x":22.55,"y":0.1},{"c":8,"k":1,"x":23.52,"y":0.23},{"c":8,"k":1,"x":23.1,"y":5.68},
{"c":8,"k":4,"x":6.94,"y":21.39},{"c":8,"k":4,"x":7.39,"y":20.3},{"c":8,"k":4,"x":8.49,"y":20.04},{"c":8,"k":4,"x":7.72,"y":19.25},{"c":8,"k":4,"x":7.44,"y":18.72},{"c":8,"k":4,"x":7.32,"y":18.45},{"c":8,"k":4,"x":7.72,"y":18.19},{"c":8,"k":4,"x":7.44,"y":17.93},{"c":8,"k":4,"x":6.53,"y":17.53},{"c":8,"k":4,"x":6.8,"y":17.13},{"c":8,"k":4,"x":6.94,"y":17.27},{"c":8,"k":4,"x":7.25,"y":16.31},{"c":8,"k":4,"x":7.11,"y":15.38},{"c":8,"k":4,"x":8.08,"y":12.18},{"c":8,"k":4,"x":6.8,"y":9.77},{"c":8,"k":4,"x":7.11,"y":9.24},{"c":8,"k":4,"x":7.25,"y":7.66},{"c":8,"k":4,"x":7.8,"y":7.26},{"c":8,"k":4,"x":7.67,"y":7.0},{"c":8,"k":4,"x":6.39,"y":6.21},{"c":8,"k":4,"x":6.8,"y":6.07},{"c":8,"k":4,"x":7.11,"y":6.07},{"c":8,"k":4,"x":7.67,"y":6.21},{"c":8,"k":4,"x":7.25,"y":4.09},
{"c":8,"k":2,"x":6.11,"y":1.02},{"c":8,"k":2,"x":11.53,"y":0.76},{"c":8,"k":2,"x":7.53,"y":22.58},{"c":8,"k":2,"x":11.29,"y":23.64},{"c":8,"k":2,"x":10.88,"y":22.05},{"c":8,"k":2,"x":15.06,"y":22.98},{"c":8,"k":2,"x":14.23,"y":22.05},{"c":8,"k":2,"x":13.64,"y":21.1},{"c":8,"k":2,"x":15.06,"y":20.96},{"c":8,"k":2,"x":14.64,"y":20.83},{"c":8,"k":2,"x":15.75,"y":20.7},{"c":8,"k":2,"x":16.44,"y":21.49},{"c":8,"k":2,"x":16.44,"y":20.96},{"c":8,"k":2,"x":14.36,"y":20.04},{"c":8,"k":2,"x":14.78,"y":20.04},{"c":8,"k":2,"x":15.33,"y":19.78},{"c":8,"k":2,"x":11.15,"y":20.04},{"c":8,"k":2,"x":11.84,"y":20.04},{"c":8,"k":2,"x":12.67,"y":18.72},{"c":8,"k":2,"x":12.95,"y":18.85},{"c":8,"k":2,"x":11.98,"y":18.32},{"c":8,"k":2,"x":13.64,"y":18.45},{"c":8,"k":2,"x":10.05,"y":17.93},{"c":8,"k":2,"x":8.22,"y":16.97},{"c":8,"k":2,"x":12.67,"y":17.4},{"c":8,"k":2,"x":12.81,"y":17.27},{"c":8,"k":2,"x":9.46,"y":16.18},{"c":8,"k":2,"x":10.88,"y":15.91},{"c":8,"k":2,"x":11.98,"y":16.31},{"c":8,"k":2,"x":13.64,"y":15.91},{"c":8,"k":2,"x":13.09,"y":15.52},{"c":8,"k":2,"x":10.32,"y":15.52},{"c":8,"k":2,"x":9.05,"y":15.25},{"c":8,"k":2,"x":12.4,"y":14.86},{"c":8,"k":2,"x":14.23,"y":14.59},{"c":8,"k":2,"x":14.09,"y":13.8},{"c":8,"k":2,"x":15.75,"y":16.57},{"c":8,"k":2,"x":16.02,"y":15.78},{"c":8,"k":2,"x":8.49,"y":13.5},{"c":8,"k":2,"x":13.23,"y":12.58},{"c":8,"k":2,"x":11.71,"y":12.18},{"c":8,"k":2,"x":11.71,"y":11.92},{"c":8,"k":2,"x":11.15,"y":10.99},{"c":8,"k":2,"x":11.43,"y":10.73},{"c":8,"k":2,"x":10.05,"y":9.9},{"c":8,"k":2,"x":8.91,"y":8.58},{"c":8,"k":2,"x":10.15,"y":6.47},{"c":8,"k":2,"x":7.39,"y":6.73},{"c":8,"k":2,"x":7.25,"y":6.34},{"c":8,"k":2,"x":6.94,"y":5.81},{"c":8,"k":2,"x":18.51,"y":21.92},{"c":8,"k":2,"x":19.61,"y":20.44},{"c":8,"k":2,"x":19.89,"y":19.51},
{"c":8,"k":3,"x":21.44,"y":23.9},{"c":8,"k":3,"x":18.65,"y":21.79},{"c":8,"k":3,"x":21.03,"y":19.38},{"c":8,"k":3,"x":21.44,"y":19.51},{"c":8,"k":3,"x":18.51,"y":18.59},{"c":8,"k":3,"x":18.92,"y":18.72},{"c":8,"k":3,"x":19.75,"y":17.23},{"c":8,"k":3,"x":17.13,"y":9.24},{"c":8,"k":3,"x":15.88,"y":8.19},{"c":8,"k":3,"x":18.78,"y":6.07},{"c":8,"k":3,"x":15.3,"y":0.23}
]},
"columns":4,
"bounds":"flush",
"spacing":{"row":58,"column":56},
"concat":[
{"width":232,"height":242,"title":{"text":"Customer 1","offset":0},"transform":[{"filter":"datum.c==1"}],"mark":{"type":"circle","size":36,"opacity":0.85},"encoding":{"x":{"field":"x","type":"quantitative","scale":{"domain":[0,24],"nice":false,"zero":false},"axis":{"values":[0,8,16,24],"labels":false,"title":null}},"y":{"field":"y","type":"quantitative","scale":{"domain":[0,24],"nice":false,"zero":false},"axis":{"values":[0,8,16,24],"labelExpr":"(datum.value<10?'0':'')+datum.value+':00'","labelAngle":-60,"labelAlign":"center","labelBaseline":"middle","labelPadding":36,"labelOffset":16,"title":"Deadline (hh:mm)","titleX":-74,"titleY":271,"titleAngle":-90,"titleAlign":"center","titleBaseline":"middle","titleFontSize":20}},"color":{"field":"k","type":"nominal","scale":{"domain":[1,2,3,4],"range":["#0072BD","#D95319","#EDB120","#7E2F8E"]},"legend":null}}},
{"width":232,"height":242,"title":{"text":"Customer 2","offset":7},"transform":[{"filter":"datum.c==2"}],"mark":{"type":"circle","size":36,"opacity":0.85},"encoding":{"x":{"field":"x","type":"quantitative","scale":{"domain":[0,24],"nice":false,"zero":false},"axis":{"values":[0,8,16,24],"labels":false,"title":null}},"y":{"field":"y","type":"quantitative","scale":{"domain":[0,24],"nice":false,"zero":false},"axis":{"values":[5,10,15,20],"labels":false,"title":null}},"color":{"field":"k","type":"nominal","scale":{"domain":[1,2,3,4],"range":["#0072BD","#D95319","#EDB120","#7E2F8E"]},"legend":null}}},
{"width":232,"height":242,"title":{"text":"Customer 3","offset":4},"transform":[{"filter":"datum.c==3"}],"mark":{"type":"circle","size":36,"opacity":0.85},"encoding":{"x":{"field":"x","type":"quantitative","scale":{"domain":[0,24],"nice":false,"zero":false},"axis":{"values":[0,8,16,24],"labels":false,"title":null}},"y":{"field":"y","type":"quantitative","scale":{"domain":[0,24],"nice":false,"zero":false},"axis":{"values":[5,10,15,20],"labels":false,"title":null}},"color":{"field":"k","type":"nominal","scale":{"domain":[1,2,3,4],"range":["#0072BD","#D95319","#EDB120","#7E2F8E"]},"legend":null}}},
{"width":232,"height":242,"title":{"text":"Customer 4","offset":7},"transform":[{"filter":"datum.c==4"}],"mark":{"type":"circle","size":36,"opacity":0.85},"encoding":{"x":{"field":"x","type":"quantitative","scale":{"domain":[0,24],"nice":false,"zero":false},"axis":{"values":[0,8,16,24],"labels":false,"title":null}},"y":{"field":"y","type":"quantitative","scale":{"domain":[0,24],"nice":false,"zero":false},"axis":{"values":[5,10,15,20],"labels":false,"title":null}},"color":{"field":"k","type":"nominal","scale":{"domain":[1,2,3,4],"range":["#0072BD","#D95319","#EDB120","#7E2F8E"]},"legend":null}}},
{"width":232,"height":242,"title":{"text":"Customer 5","offset":0},"transform":[{"filter":"datum.c==5"}],"mark":{"type":"circle","size":36,"opacity":0.85},"encoding":{"x":{"field":"x","type":"quantitative","scale":{"domain":[0,24],"nice":false,"zero":false},"axis":{"values":[0,8,16,24],"labelExpr":"(datum.value<10?'0':'')+datum.value+':00'","labelAngle":-60,"labelAlign":"center","labelBaseline":"middle","title":null}},"y":{"field":"y","type":"quantitative","scale":{"domain":[0,24],"nice":false,"zero":false},"axis":{"values":[0,8,16,24],"labelExpr":"(datum.value<10?'0':'')+datum.value+':00'","labelAngle":-60,"labelAlign":"center","labelBaseline":"middle","labelPadding":36,"labelOffset":16,"title":null}},"color":{"field":"k","type":"nominal","scale":{"domain":[1,2,3,4],"range":["#0072BD","#D95319","#EDB120","#7E2F8E"]},"legend":null}}},
{"width":232,"height":242,"title":{"text":"Customer 6","offset":7},"transform":[{"filter":"datum.c==6"}],"mark":{"type":"circle","size":36,"opacity":0.85},"encoding":{"x":{"field":"x","type":"quantitative","scale":{"domain":[0,24],"nice":false,"zero":false},"axis":{"values":[0,8,16,24],"labelExpr":"(datum.value<10?'0':'')+datum.value+':00'","labelAngle":-60,"labelAlign":"center","labelBaseline":"middle","title":"Configuration time (hh:mm)","titleX":206,"titleY":74,"titleAlign":"center","titleBaseline":"middle","titleFontSize":21.5}},"y":{"field":"y","type":"quantitative","scale":{"domain":[0,24],"nice":false,"zero":false},"axis":{"values":[5,10,15,20],"labels":false,"title":null}},"color":{"field":"k","type":"nominal","scale":{"domain":[1,2,3,4],"range":["#0072BD","#D95319","#EDB120","#7E2F8E"]},"legend":null}}},
{"width":232,"height":242,"title":{"text":"Customer 7","offset":7},"transform":[{"filter":"datum.c==7"}],"mark":{"type":"circle","size":36,"opacity":0.85},"encoding":{"x":{"field":"x","type":"quantitative","scale":{"domain":[0,24],"nice":false,"zero":false},"axis":{"values":[0,8,16,24],"labelExpr":"(datum.value<10?'0':'')+datum.value+':00'","labelAngle":-60,"labelAlign":"center","labelBaseline":"middle","title":null}},"y":{"field":"y","type":"quantitative","scale":{"domain":[0,24],"nice":false,"zero":false},"axis":{"values":[5,10,15,20],"labels":false,"title":null}},"color":{"field":"k","type":"nominal","scale":{"domain":[1,2,3,4],"range":["#0072BD","#D95319","#EDB120","#7E2F8E"]},"legend":null}}},
{"width":232,"height":242,"title":{"text":"Customer 8","offset":5},"transform":[{"filter":"datum.c==8"}],"mark":{"type":"circle","size":36,"opacity":0.85},"encoding":{"x":{"field":"x","type":"quantitative","scale":{"domain":[0,24],"nice":false,"zero":false},"axis":{"values":[0,8,16,24],"labelExpr":"(datum.value<10?'0':'')+datum.value+':00'","labelAngle":-60,"labelAlign":"center","labelBaseline":"middle","title":null}},"y":{"field":"y","type":"quantitative","scale":{"domain":[0,24],"nice":false,"zero":false},"axis":{"values":[5,10,15,20],"labels":false,"title":null}},"color":{"field":"k","type":"nominal","scale":{"domain":[1,2,3,4],"range":["#0072BD","#D95319","#EDB120","#7E2F8E"]},"legend":null}}}
],
"config":{
"view":{"stroke":null},
"font":"Liberation Sans",
"title":{"font":"Liberation Sans","fontSize":21,"fontWeight":"bold","color":"#000000","frame":"group","anchor":"middle","baseline":"alphabetic"},
"axis":{"grid":false,"domainColor":"#262626","domainWidth":1,"tickColor":"#262626","tickSize":-3,"tickWidth":1,"labelFont":"Liberation Sans","labelFontSize":18,"labelColor":"#262626","labelFlush":false,"labelOverlap":false,"labelBound":false,"titleFont":"Liberation Sans","titleFontSize":20,"titleColor":"#262626","titleFontWeight":"normal"},
"axisX":{"labelPadding":40}
}
}
